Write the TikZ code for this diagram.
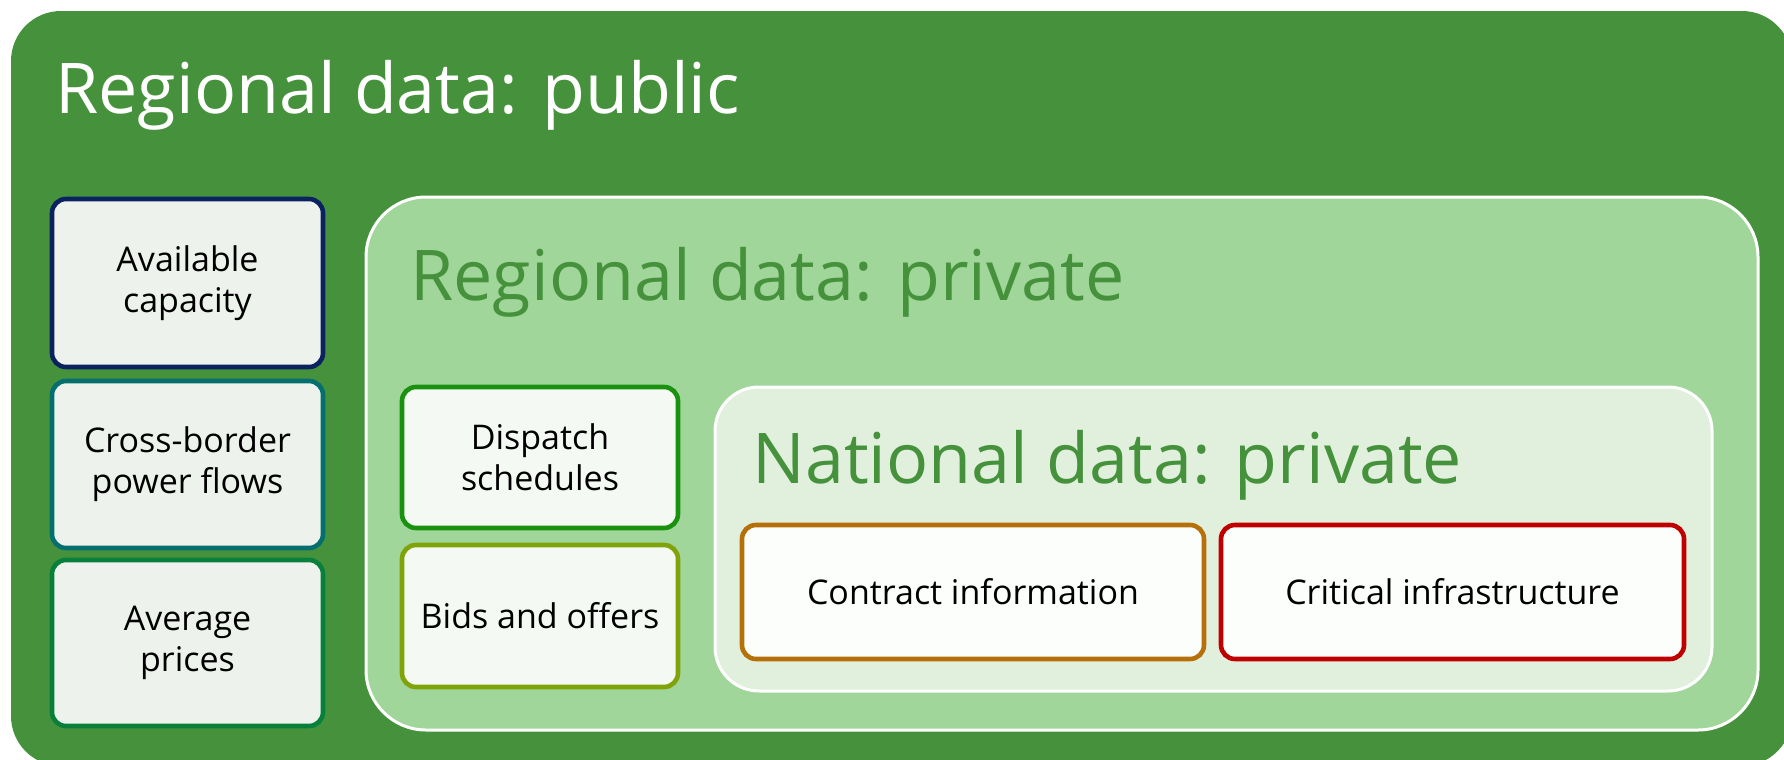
\documentclass[tikz,border=0pt]{standalone}
\usepackage{fontspec}
\setmainfont{Open Sans}
\usetikzlibrary{positioning}
\definecolor{pubgreen}{HTML}{46923C}
\definecolor{privgreen}{HTML}{A0D69A}
\definecolor{natgreen}{HTML}{E0F0DC}
\definecolor{itemfill}{HTML}{EDF3EC}
\definecolor{privfill}{HTML}{F4FAF3}
\definecolor{natfill}{HTML}{FCFEFB}
\definecolor{capblue}{HTML}{0B2260}
\definecolor{flowteal}{HTML}{056E6E}
\definecolor{pricegreen}{HTML}{087F3A}
\definecolor{dispgreen}{HTML}{1A9210}
\definecolor{bidolive}{HTML}{7FA308}
\definecolor{contrbrown}{HTML}{B5700A}
\definecolor{critred}{HTML}{C00000}

\begin{document}
\begin{tikzpicture}[
  x=0.5pt, y=-0.5pt,
  zone/.style={draw=white, line width=1.5pt, inner sep=0pt},
  title/.style={anchor=base west, inner sep=0pt, font=\fontsize{35}{40}\selectfont},
  item/.style={rounded corners=7pt, line width=2.3pt, inner sep=0pt, align=center,
               font=\fontsize{17}{20.5}\selectfont}
]
  \useasboundingbox (0,0) rectangle (1784,760);

  % Regional data: public
  \node[fill=pubgreen, rounded corners=25pt, inner sep=0pt,
        minimum width=890.5pt, minimum height=377.5pt] (public) at (901.5,388.5) {};
  \node[title, white] (publictitle) at (55,113) {Regional data: public};

  \node[item, draw=capblue, fill=itemfill, minimum width=135.5pt, minimum height=84pt]
    (capacity) at (187.5,283) {Available\\capacity};
  \node[item, draw=flowteal, fill=itemfill, minimum width=135.5pt, minimum height=83.5pt]
    (flows) at (187.5,464.5) {Cross-border\\power flows};
  \node[item, draw=pricegreen, fill=itemfill, minimum width=135.5pt, minimum height=83pt]
    (prices) at (187.5,643) {Average\\prices};

  % Regional data: private
  \node[zone, fill=privgreen, rounded corners=30pt,
        minimum width=696pt, minimum height=266.5pt] (regional) at (1062,463.5) {};
  \node[title, pubgreen] (regionaltitle) at (410,300) {Regional data: private};

  \node[item, draw=dispgreen, fill=privfill, minimum width=138pt, minimum height=70.5pt]
    (dispatch) at (540,457.5) {Dispatch\\schedules};
  \node[item, draw=bidolive, fill=privfill, minimum width=138pt, minimum height=71pt]
    (bids) at (540,616) {Bids and offers};

  % National data: private
  \node[zone, fill=natgreen, rounded corners=22pt,
        minimum width=498.5pt, minimum height=152pt] (national) at (1213.5,539) {};
  \node[title, pubgreen] (nationaltitle) at (752,483) {National data: private};

  \node[item, draw=contrbrown, fill=natfill, minimum width=231pt, minimum height=67pt]
    (contract) at (973,592) {Contract information};
  \node[item, draw=critred, fill=natfill, minimum width=231.5pt, minimum height=67pt]
    (critical) at (1452.5,592) {Critical infrastructure};
\end{tikzpicture}
\end{document}
